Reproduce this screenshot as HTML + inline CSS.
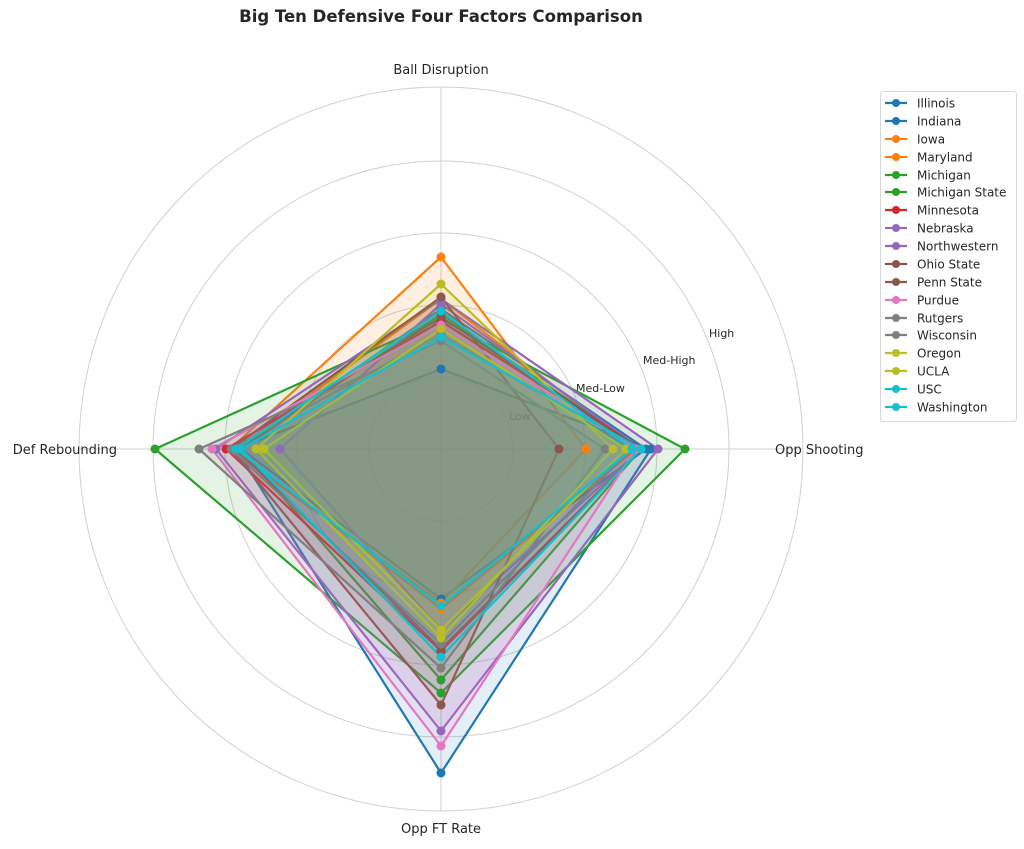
<!DOCTYPE html>
<html><head><meta charset="utf-8"><style>
html,body{margin:0;padding:0;background:#fff;}
svg text{font-family:"DejaVu Sans","Liberation Sans",sans-serif;fill:#262626;}
</style></head><body>
<svg width="1024" height="844" viewBox="0 0 1024 844" xmlns="http://www.w3.org/2000/svg">
<rect width="1024" height="844" fill="#fff"/>
<text x="441" y="22" font-size="16.5" font-weight="bold" text-anchor="middle">Big Ten Defensive Four Factors Comparison</text>
<g fill="none" stroke="#d0d0d0" stroke-width="1">
<circle cx="441" cy="449" r="72"/><circle cx="441" cy="449" r="144"/><circle cx="441" cy="449" r="216"/><circle cx="441" cy="449" r="288"/><circle cx="441" cy="449" r="362"/>
<line x1="441" y1="87" x2="441" y2="811"/><line x1="79" y1="449" x2="803" y2="449"/>
</g>
<g font-size="13">
<text x="441" y="74" text-anchor="middle">Ball Disruption</text>
<text x="775" y="454">Opp Shooting</text>
<text x="441" y="833" text-anchor="middle">Opp FT Rate</text>
<text x="117" y="454" text-anchor="end">Def Rebounding</text>
</g>
<g font-size="11">
<text x="509" y="420" fill="#555">Low</text>
<text x="576" y="392">Med-Low</text>
<text x="643" y="364">Med-High</text>
<text x="709" y="337">High</text>
</g>
<g stroke-width="2.2" stroke-linejoin="round" fill-opacity="0.12">
<polygon points="441,369 651,449 441,773 236,449" stroke="#1f77b4" fill="#1f77b4"/>
<polygon points="441,309 646,449 441,599 241,449" stroke="#1f77b4" fill="#1f77b4"/>
<polygon points="441,257 586,449 441,603 230,449" stroke="#ff7f0e" fill="#ff7f0e"/>
<polygon points="441,299 636,449 441,609 236,449" stroke="#ff7f0e" fill="#ff7f0e"/>
<polygon points="441,319 685,449 441,693 155,449" stroke="#2ca02c" fill="#2ca02c"/>
<polygon points="441,314 641,449 441,680 241,449" stroke="#2ca02c" fill="#2ca02c"/>
<polygon points="441,321 641,449 441,651 226,449" stroke="#d62728" fill="#d62728"/>
<polygon points="441,299 658,449 441,731 216,449" stroke="#9467bd" fill="#9467bd"/>
<polygon points="441,304 641,449 441,630 280,449" stroke="#9467bd" fill="#9467bd"/>
<polygon points="441,297 559,449 441,705 231,449" stroke="#8c564b" fill="#8c564b"/>
<polygon points="441,317 641,449 441,649 236,449" stroke="#8c564b" fill="#8c564b"/>
<polygon points="441,325 636,449 441,746 212,449" stroke="#e377c2" fill="#e377c2"/>
<polygon points="441,341 605,449 441,668 199,449" stroke="#7f7f7f" fill="#7f7f7f"/>
<polygon points="441,334 631,449 441,644 231,449" stroke="#7f7f7f" fill="#7f7f7f"/>
<polygon points="441,284 613,449 441,638 256,449" stroke="#bcbd22" fill="#bcbd22"/>
<polygon points="441,329 626,449 441,630 264,449" stroke="#bcbd22" fill="#bcbd22"/>
<polygon points="441,311 632,449 441,606 236,449" stroke="#17becf" fill="#17becf"/>
<polygon points="441,337 641,449 441,657 241,449" stroke="#17becf" fill="#17becf"/>
</g>
<g>
<g fill="#1f77b4"><circle cx="441" cy="369" r="4.5"/><circle cx="651" cy="449" r="4.5"/><circle cx="441" cy="773" r="4.5"/><circle cx="236" cy="449" r="4.5"/><circle cx="441" cy="309" r="4.5"/><circle cx="646" cy="449" r="4.5"/><circle cx="441" cy="599" r="4.5"/><circle cx="241" cy="449" r="4.5"/></g>
<g fill="#ff7f0e"><circle cx="441" cy="257" r="4.5"/><circle cx="586" cy="449" r="4.5"/><circle cx="441" cy="603" r="4.5"/><circle cx="230" cy="449" r="4.5"/><circle cx="441" cy="299" r="4.5"/><circle cx="636" cy="449" r="4.5"/><circle cx="441" cy="609" r="4.5"/><circle cx="236" cy="449" r="4.5"/></g>
<g fill="#2ca02c"><circle cx="441" cy="319" r="4.5"/><circle cx="685" cy="449" r="4.5"/><circle cx="441" cy="693" r="4.5"/><circle cx="155" cy="449" r="4.5"/><circle cx="441" cy="314" r="4.5"/><circle cx="641" cy="449" r="4.5"/><circle cx="441" cy="680" r="4.5"/><circle cx="241" cy="449" r="4.5"/></g>
<g fill="#d62728"><circle cx="441" cy="321" r="4.5"/><circle cx="641" cy="449" r="4.5"/><circle cx="441" cy="651" r="4.5"/><circle cx="226" cy="449" r="4.5"/></g>
<g fill="#9467bd"><circle cx="441" cy="299" r="4.5"/><circle cx="658" cy="449" r="4.5"/><circle cx="441" cy="731" r="4.5"/><circle cx="216" cy="449" r="4.5"/><circle cx="441" cy="304" r="4.5"/><circle cx="641" cy="449" r="4.5"/><circle cx="441" cy="630" r="4.5"/><circle cx="280" cy="449" r="4.5"/></g>
<g fill="#8c564b"><circle cx="441" cy="297" r="4.5"/><circle cx="559" cy="449" r="4.5"/><circle cx="441" cy="705" r="4.5"/><circle cx="231" cy="449" r="4.5"/><circle cx="441" cy="317" r="4.5"/><circle cx="641" cy="449" r="4.5"/><circle cx="441" cy="649" r="4.5"/><circle cx="236" cy="449" r="4.5"/></g>
<g fill="#e377c2"><circle cx="441" cy="325" r="4.5"/><circle cx="636" cy="449" r="4.5"/><circle cx="441" cy="746" r="4.5"/><circle cx="212" cy="449" r="4.5"/></g>
<g fill="#7f7f7f"><circle cx="441" cy="341" r="4.5"/><circle cx="605" cy="449" r="4.5"/><circle cx="441" cy="668" r="4.5"/><circle cx="199" cy="449" r="4.5"/><circle cx="441" cy="334" r="4.5"/><circle cx="631" cy="449" r="4.5"/><circle cx="441" cy="644" r="4.5"/><circle cx="231" cy="449" r="4.5"/></g>
<g fill="#bcbd22"><circle cx="441" cy="284" r="4.5"/><circle cx="613" cy="449" r="4.5"/><circle cx="441" cy="638" r="4.5"/><circle cx="256" cy="449" r="4.5"/><circle cx="441" cy="329" r="4.5"/><circle cx="626" cy="449" r="4.5"/><circle cx="441" cy="630" r="4.5"/><circle cx="264" cy="449" r="4.5"/></g>
<g fill="#17becf"><circle cx="441" cy="311" r="4.5"/><circle cx="632" cy="449" r="4.5"/><circle cx="441" cy="606" r="4.5"/><circle cx="236" cy="449" r="4.5"/><circle cx="441" cy="337" r="4.5"/><circle cx="641" cy="449" r="4.5"/><circle cx="441" cy="657" r="4.5"/><circle cx="241" cy="449" r="4.5"/></g>
</g>
<rect x="880.5" y="91.5" width="136" height="330" rx="3" fill="#fff" stroke="#d8d8d8"/>
<g font-size="12" stroke-width="2.2">
<g transform="translate(0,103)"><line x1="885" x2="907" stroke="#1f77b4"/><circle cx="896" r="4" fill="#1f77b4"/><text x="917" y="4.5">Illinois</text></g>
<g transform="translate(0,121)"><line x1="885" x2="907" stroke="#1f77b4"/><circle cx="896" r="4" fill="#1f77b4"/><text x="917" y="4.5">Indiana</text></g>
<g transform="translate(0,139)"><line x1="885" x2="907" stroke="#ff7f0e"/><circle cx="896" r="4" fill="#ff7f0e"/><text x="917" y="4.5">Iowa</text></g>
<g transform="translate(0,157)"><line x1="885" x2="907" stroke="#ff7f0e"/><circle cx="896" r="4" fill="#ff7f0e"/><text x="917" y="4.5">Maryland</text></g>
<g transform="translate(0,175)"><line x1="885" x2="907" stroke="#2ca02c"/><circle cx="896" r="4" fill="#2ca02c"/><text x="917" y="4.5">Michigan</text></g>
<g transform="translate(0,192)"><line x1="885" x2="907" stroke="#2ca02c"/><circle cx="896" r="4" fill="#2ca02c"/><text x="917" y="4.5">Michigan State</text></g>
<g transform="translate(0,210)"><line x1="885" x2="907" stroke="#d62728"/><circle cx="896" r="4" fill="#d62728"/><text x="917" y="4.5">Minnesota</text></g>
<g transform="translate(0,228)"><line x1="885" x2="907" stroke="#9467bd"/><circle cx="896" r="4" fill="#9467bd"/><text x="917" y="4.5">Nebraska</text></g>
<g transform="translate(0,246)"><line x1="885" x2="907" stroke="#9467bd"/><circle cx="896" r="4" fill="#9467bd"/><text x="917" y="4.5">Northwestern</text></g>
<g transform="translate(0,264)"><line x1="885" x2="907" stroke="#8c564b"/><circle cx="896" r="4" fill="#8c564b"/><text x="917" y="4.5">Ohio State</text></g>
<g transform="translate(0,282)"><line x1="885" x2="907" stroke="#8c564b"/><circle cx="896" r="4" fill="#8c564b"/><text x="917" y="4.5">Penn State</text></g>
<g transform="translate(0,300)"><line x1="885" x2="907" stroke="#e377c2"/><circle cx="896" r="4" fill="#e377c2"/><text x="917" y="4.5">Purdue</text></g>
<g transform="translate(0,318)"><line x1="885" x2="907" stroke="#7f7f7f"/><circle cx="896" r="4" fill="#7f7f7f"/><text x="917" y="4.5">Rutgers</text></g>
<g transform="translate(0,335)"><line x1="885" x2="907" stroke="#7f7f7f"/><circle cx="896" r="4" fill="#7f7f7f"/><text x="917" y="4.5">Wisconsin</text></g>
<g transform="translate(0,353)"><line x1="885" x2="907" stroke="#bcbd22"/><circle cx="896" r="4" fill="#bcbd22"/><text x="917" y="4.5">Oregon</text></g>
<g transform="translate(0,371)"><line x1="885" x2="907" stroke="#bcbd22"/><circle cx="896" r="4" fill="#bcbd22"/><text x="917" y="4.5">UCLA</text></g>
<g transform="translate(0,389)"><line x1="885" x2="907" stroke="#17becf"/><circle cx="896" r="4" fill="#17becf"/><text x="917" y="4.5">USC</text></g>
<g transform="translate(0,407)"><line x1="885" x2="907" stroke="#17becf"/><circle cx="896" r="4" fill="#17becf"/><text x="917" y="4.5">Washington</text></g>
</g>
</svg>
</body></html>
